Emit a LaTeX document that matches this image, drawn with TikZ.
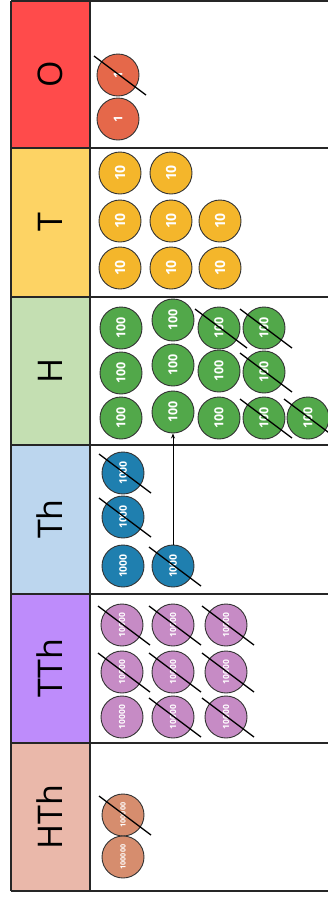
\documentclass[tikz,border=0pt]{standalone}
\usepackage{fontspec}
\setmainfont{Open Sans}
\usepackage{tikz}
\usetikzlibrary{arrows.meta}

\definecolor{ones}{HTML}{FF4B4B}
\definecolor{tens}{HTML}{FDD364}
\definecolor{hundreds}{HTML}{C4DFB2}
\definecolor{thousands}{HTML}{BCD6EE}
\definecolor{tenthousands}{HTML}{BE8CFB}
\definecolor{hundredthousands}{HTML}{EAB8AA}
\definecolor{onecoin}{HTML}{E5684A}
\definecolor{tencoin}{HTML}{F4B62B}
\definecolor{hundredcoin}{HTML}{52A84A}
\definecolor{thousandcoin}{HTML}{1F7FAF}
\definecolor{tenthousandcoin}{HTML}{C68BC5}
\definecolor{hundredthousandcoin}{HTML}{D68D6E}

\begin{document}
\begin{tikzpicture}[x=1pt,y=-1pt,
    coin/.style={circle, draw=black!80, line width=0.9pt, minimum size=42pt, inner sep=0pt,
                 text=white, font=\bfseries, rotate=90},
    strike/.style={line width=1.3pt, black},
    place/.style={rotate=90, font=\fontsize{34}{34}\selectfont}]
                        \useasboundingbox (0,0) rectangle (328,898);

                        % Columns
                        \fill[ones] (11,1) rectangle (90,148);
                        \fill[tens] (11,148) rectangle (90,297);
                        \fill[hundreds] (11,297) rectangle (90,445);
                        \fill[thousands] (11,445) rectangle (90,594);
                        \fill[tenthousands] (11,594) rectangle (90,743);
                        \fill[hundredthousands] (11,743) rectangle (90,891);
                        \foreach \y in {1,148,297,445,594,743,891}
                            \draw[line width=1.6pt, black!85] (11,\y) -- (330,\y);
                        \draw[line width=1.6pt, black!85] (11,1) -- (11,891);
                        \draw[line width=1.6pt, black!85] (90,1) -- (90,891);

                        % Labels
                        \node[place] (lo) at (50,74) {O};
                        \node[place] (lt) at (50,222) {T};
                        \node[place] (lh) at (50,371) {H};
                        \node[place] (lth) at (50,519) {Th};
                        \node[place] (ltth) at (50,668) {TTh};
                        \node[place] (lhth) at (50,817) {HTh};

                        % Ones
                        \node[coin, fill=onecoin, font=\bfseries\fontsize{12}{12}\selectfont] (o1) at (118,119) {1};
                        \node[coin, fill=onecoin, font=\bfseries\fontsize{12}{12}\selectfont] (o2) at (118,75) {1};

                        % Tens
                        \node[coin, fill=tencoin, font=\bfseries\fontsize{14}{14}\selectfont] (t1) at (120,173) {10};
                        \node[coin, fill=tencoin, font=\bfseries\fontsize{14}{14}\selectfont] (t2) at (171,173) {10};
                        \node[coin, fill=tencoin, font=\bfseries\fontsize{14}{14}\selectfont] (t3) at (120,221) {10};
                        \node[coin, fill=tencoin, font=\bfseries\fontsize{14}{14}\selectfont] (t4) at (171,221) {10};
                        \node[coin, fill=tencoin, font=\bfseries\fontsize{14}{14}\selectfont] (t5) at (220,221) {10};
                        \node[coin, fill=tencoin, font=\bfseries\fontsize{14}{14}\selectfont] (t6) at (120,268) {10};
                        \node[coin, fill=tencoin, font=\bfseries\fontsize{14}{14}\selectfont] (t7) at (171,268) {10};
                        \node[coin, fill=tencoin, font=\bfseries\fontsize{14}{14}\selectfont] (t8) at (220,268) {10};

                        % Hundreds
                        \node[coin, fill=hundredcoin, font=\bfseries\fontsize{12.5}{12.5}\selectfont] (h1) at (121,328) {100};
                        \node[coin, fill=hundredcoin, font=\bfseries\fontsize{12.5}{12.5}\selectfont] (h2) at (121,373) {100};
                        \node[coin, fill=hundredcoin, font=\bfseries\fontsize{12.5}{12.5}\selectfont] (h3) at (121,418) {100};
                        \node[coin, fill=hundredcoin, font=\bfseries\fontsize{12.5}{12.5}\selectfont] (h4) at (173,320) {100};
                        \node[coin, fill=hundredcoin, font=\bfseries\fontsize{12.5}{12.5}\selectfont] (h5) at (173,365) {100};
                        \node[coin, fill=hundredcoin, font=\bfseries\fontsize{12.5}{12.5}\selectfont] (h6) at (173,412) {100};
                        \node[coin, fill=hundredcoin, font=\bfseries\fontsize{12.5}{12.5}\selectfont] (h7) at (219,328) {100};
                        \node[coin, fill=hundredcoin, font=\bfseries\fontsize{12.5}{12.5}\selectfont] (h8) at (219,371) {100};
                        \node[coin, fill=hundredcoin, font=\bfseries\fontsize{12.5}{12.5}\selectfont] (h9) at (219,418) {100};
                        \node[coin, fill=hundredcoin, font=\bfseries\fontsize{12.5}{12.5}\selectfont] (h10) at (264,328) {100};
                        \node[coin, fill=hundredcoin, font=\bfseries\fontsize{12.5}{12.5}\selectfont] (h11) at (264,372) {100};
                        \node[coin, fill=hundredcoin, font=\bfseries\fontsize{12.5}{12.5}\selectfont] (h12) at (264,418) {100};
                        \node[coin, fill=hundredcoin, font=\bfseries\fontsize{12.5}{12.5}\selectfont] (h13) at (308,418) {100};

                        % Thousands
                        \node[coin, fill=thousandcoin, font=\bfseries\fontsize{10.5}{10.5}\selectfont] (th1) at (123,473) {1000};
                        \node[coin, fill=thousandcoin, font=\bfseries\fontsize{10.5}{10.5}\selectfont] (th2) at (123,517) {1000};
                        \node[coin, fill=thousandcoin, font=\bfseries\fontsize{10.5}{10.5}\selectfont] (th3) at (123,566) {1000};
                        \node[coin, fill=thousandcoin, font=\bfseries\fontsize{10.5}{10.5}\selectfont] (th4) at (173,566) {1000};

                        % Ten thousands
                        \node[coin, fill=tenthousandcoin, font=\bfseries\fontsize{8.5}{8.5}\selectfont] (tth1) at (122,625) {10000};
                        \node[coin, fill=tenthousandcoin, font=\bfseries\fontsize{8.5}{8.5}\selectfont] (tth2) at (122,672) {10000};
                        \node[coin, fill=tenthousandcoin, font=\bfseries\fontsize{8.5}{8.5}\selectfont] (tth3) at (122,717) {10000};
                        \node[coin, fill=tenthousandcoin, font=\bfseries\fontsize{8.5}{8.5}\selectfont] (tth4) at (173,625) {10000};
                        \node[coin, fill=tenthousandcoin, font=\bfseries\fontsize{8.5}{8.5}\selectfont] (tth5) at (173,672) {10000};
                        \node[coin, fill=tenthousandcoin, font=\bfseries\fontsize{8.5}{8.5}\selectfont] (tth6) at (173,717) {10000};
                        \node[coin, fill=tenthousandcoin, font=\bfseries\fontsize{8.5}{8.5}\selectfont] (tth7) at (226,625) {10000};
                        \node[coin, fill=tenthousandcoin, font=\bfseries\fontsize{8.5}{8.5}\selectfont] (tth8) at (226,672) {10000};
                        \node[coin, fill=tenthousandcoin, font=\bfseries\fontsize{8.5}{8.5}\selectfont] (tth9) at (226,717) {10000};

                        % Hundred thousands
                        \node[coin, fill=hundredthousandcoin, font=\bfseries\fontsize{7.2}{7.2}\selectfont] (hth1) at (123,815) {100000};
                        \node[coin, fill=hundredthousandcoin, font=\bfseries\fontsize{7.2}{7.2}\selectfont] (hth2) at (123,857) {100000};

                        % Crossed out
                        \foreach \c in {o2,h7,h10,h11,h12,h13,th1,th2,th4,tth1,tth2,tth4,tth5,tth6,tth7,tth8,tth9,hth1}
                            \draw[strike] ([shift={(-24,-19)}]\c.center) -- ([shift={(28,20)}]\c.center);

                        % Exchange
                        \draw[line width=1pt, -{Stealth[length=5pt,width=4pt]}] (th4) -- (h6);
                    \end{tikzpicture}
\end{document}
